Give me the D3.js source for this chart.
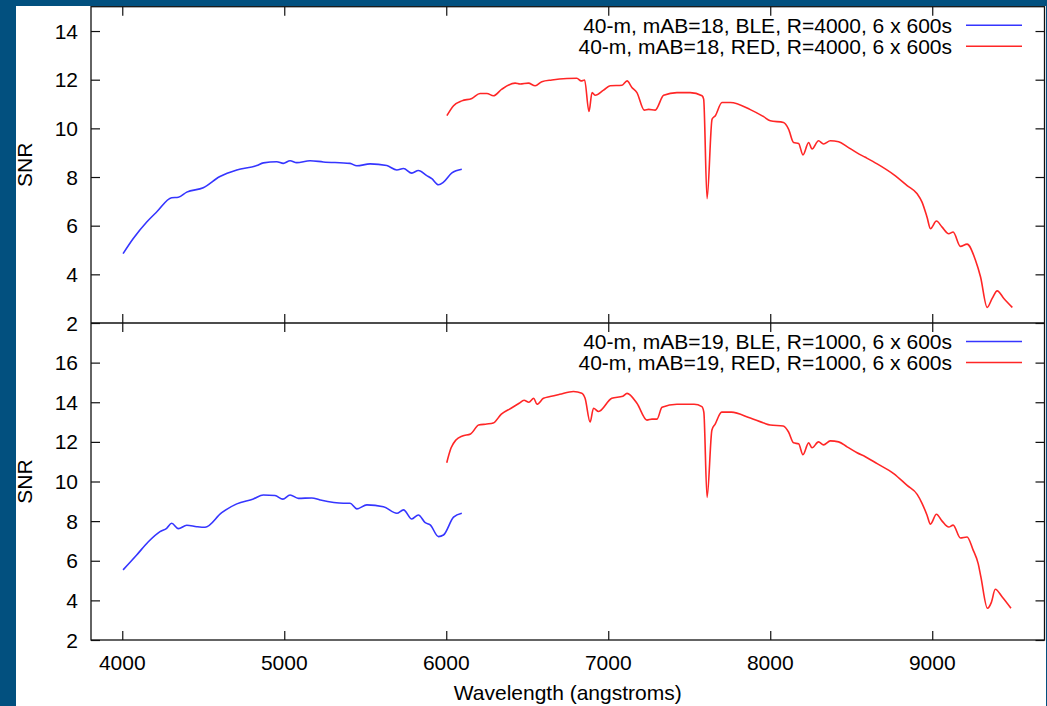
<!DOCTYPE html>
<html>
<head>
<meta charset="utf-8">
<script src="https://cdn.jsdelivr.net/npm/d3@7"></script>
<style>
    body { margin: 0; background: #02507f; }
    svg { display: block; }
    text { font-family: "Liberation Sans", Arial, Helvetica, sans-serif; fill: #000; }
</style>
</head>
<body>
<div id="chart"></div>
<script>
// wavelength ticks and SNR ticks for both panels
var xTicks = [4000, 5000, 6000, 7000, 8000, 9000];
var yTicksTop = [2, 4, 6, 8, 10, 12, 14];
var yTicksBottom = [2, 4, 6, 8, 10, 12, 14, 16];

var legendTop = ["40-m, mAB=18, BLE, R=4000, 6 x 600s", "40-m, mAB=18, RED, R=4000, 6 x 600s"];
var legendBottom = ["40-m, mAB=19, BLE, R=1000, 6 x 600s", "40-m, mAB=19, RED, R=1000, 6 x 600s"];

// [wavelength, SNR]
var blueTop = [[4005,4.85],[4068,5.47],[4151,6.15],[4212,6.56],[4305,7.15],[4346,7.17],[4398,7.38],[4500,7.56],
    [4603,8.02],[4707,8.29],[4830,8.47],[4871,8.58],[4954,8.63],[4994,8.56],[5036,8.67],[5077,8.59],[5159,8.67],
    [5241,8.62],[5406,8.56],[5448,8.46],[5530,8.54],[5633,8.47],[5695,8.29],[5736,8.35],[5787,8.16],[5828,8.27],
    [5880,8.06],[5911,7.93],[5952,7.68],[5983,7.79],[6035,8.17],[6096,8.32]];

var redTop = [[6004,10.52],[6045,10.93],[6096,11.13],[6158,11.23],[6209,11.43],[6251,11.43],[6291,11.34],[6343,11.61],
    [6425,11.86],[6456,11.82],[6507,11.86],[6549,11.75],[6590,11.92],[6652,11.99],[6745,12.05],[6806,12.06],
    [6833,11.95],[6854,11.99],[6881,10.69],[6900,11.47],[6920,11.36],[6971,11.57],[7012,11.75],[7085,11.77],
    [7116,11.95],[7146,11.68],[7177,11.47],[7222,10.75],[7249,10.78],[7290,10.75],[7342,11.36],[7424,11.47],
    [7506,11.47],[7579,11.34],[7589,11.2],[7610,7.11],[7641,10.38],[7661,10.52],[7702,11.06],[7754,11.06],
    [7877,10.77],[7959,10.48],[8000,10.31],[8082,10.24],[8113,9.97],[8144,9.42],[8175,9.38],[8202,8.91],
    [8237,9.42],[8258,9.15],[8298,9.49],[8329,9.36],[8371,9.49],[8422,9.45],[8474,9.25],[8536,8.99],
    [8587,8.81],[8660,8.54],[8762,8.1],[8845,7.65],[8907,7.31],[8937,6.97],[8968,6.35],[8989,5.88],
    [9026,6.19],[9061,5.94],[9102,5.67],[9129,5.74],[9174,5.15],[9215,5.24],[9267,4.58],[9298,3.9],
    [9339,2.64],[9370,3.01],[9401,3.32],[9442,3.01],[9494,2.64]];

var blueBottom = [[4005,5.54],[4089,6.29],[4161,6.96],[4233,7.47],[4274,7.64],[4305,7.89],[4346,7.62],[4398,7.79],
    [4460,7.72],[4511,7.69],[4614,8.43],[4707,8.87],[4809,9.12],[4871,9.32],[4943,9.29],[4991,9.11],[5036,9.32],
    [5087,9.15],[5170,9.17],[5221,9.07],[5365,8.9],[5406,8.9],[5448,8.62],[5510,8.82],[5612,8.73],[5695,8.4],
    [5736,8.57],[5787,8.11],[5828,8.31],[5870,7.92],[5901,7.81],[5952,7.22],[5983,7.3],[6045,8.2],[6096,8.4]];

var redBottom = [[6003,10.95],[6030,11.7],[6060,12.1],[6100,12.3],[6150,12.4],[6200,12.85],[6250,12.9],[6290,12.95],
    [6340,13.4],[6400,13.7],[6450,13.95],[6480,14.1],[6510,14.0],[6540,14.2],[6560,13.9],[6600,14.2],[6641,14.29],
    [6700,14.4],[6785,14.54],[6837,14.46],[6857,14.2],[6888,13.0],[6909,13.7],[6940,13.53],[7022,14.2],[7090,14.3],
    [7116,14.45],[7177,13.95],[7239,13.1],[7270,13.15],[7301,13.15],[7332,13.75],[7424,13.9],[7530,13.9],
    [7578,13.78],[7590,13.5],[7610,9.2],[7640,12.6],[7660,12.9],[7700,13.5],[7760,13.5],[7877,13.2],[7960,12.95],
    [8000,12.85],[8080,12.8],[8113,12.5],[8144,11.95],[8175,11.9],[8202,11.35],[8237,11.95],[8258,11.7],
    [8298,12.0],[8329,11.85],[8371,12.05],[8422,12.0],[8474,11.75],[8536,11.45],[8587,11.25],[8660,10.9],
    [8762,10.4],[8845,9.8],[8907,9.35],[8937,8.9],[8968,8.3],[8989,7.85],[9026,8.35],[9061,8.0],[9102,7.7],
    [9129,7.8],[9174,7.15],[9215,7.2],[9252,6.55],[9284,5.84],[9300,5.2],[9341,3.6],[9365,3.9],[9389,4.56],
    [9432,4.17],[9486,3.6]];

var W = 1047, H = 706;
var plotLeft = 91, plotRight = 1044.5, plotTop = 6.7, plotMid = 323, plotBottom = 640;
var tickLen = 9;
var fontSize = "21px";

var svg = d3.select("#chart").append("svg")
    .attr("width", W)
    .attr("height", H);

// white page inside the blue frame
svg.append("rect")
    .attr("x", 16).attr("y", 6)
    .attr("width", 1030).attr("height", H - 6)
    .attr("fill", "#fff");

var x = d3.scaleLinear().domain([3807, 9693]).range([plotLeft, plotRight]);

function drawPanel(y0, y1, ydomain, yticks, blue, red, legend) {
    var y = d3.scaleLinear().domain(ydomain).range([y1, y0]);
    var g = svg.append("g");

    var line = d3.line()
        .x(function (d) { return x(d[0]); })
        .y(function (d) { return y(d[1]); })
        .curve(d3.curveMonotoneX);

    g.append("path").datum(blue)
        .attr("d", line)
        .attr("fill", "none").attr("stroke", "#3535ff").attr("stroke-width", 1.6);
    g.append("path").datum(red)
        .attr("d", line)
        .attr("fill", "none").attr("stroke", "#ff2626").attr("stroke-width", 1.6);

    // left axis ticks, mirrored on the right
    g.append("g")
        .attr("transform", "translate(" + plotLeft + ",0)")
        .call(d3.axisRight(y).tickValues(yticks).tickSize(tickLen).tickFormat(""))
        .call(function (a) { a.select(".domain").remove(); });
    g.append("g")
        .attr("transform", "translate(" + plotRight + ",0)")
        .call(d3.axisLeft(y).tickValues(yticks).tickSize(tickLen).tickFormat(""))
        .call(function (a) { a.select(".domain").remove(); });

    g.selectAll(".ylab")
        .data(yticks)
        .enter().append("text")
        .attr("x", 78)
        .attr("y", function (d) { return y(d); })
        .attr("dy", "0.36em")
        .attr("text-anchor", "end")
        .style("font-size", fontSize)
        .text(function (d) { return d; });

    // x ticks on top and bottom of the panel, pointing in
    g.append("g")
        .attr("transform", "translate(0," + y1 + ")")
        .call(d3.axisTop(x).tickValues(xTicks).tickSize(tickLen).tickFormat(""))
        .call(function (a) { a.select(".domain").remove(); });
    g.append("g")
        .attr("transform", "translate(0," + y0 + ")")
        .call(d3.axisBottom(x).tickValues(xTicks).tickSize(tickLen).tickFormat(""))
        .call(function (a) { a.select(".domain").remove(); });

    g.selectAll(".tick line").attr("stroke", "#111").attr("stroke-width", 1.2);

    g.append("text")
        .attr("transform", "translate(24," + (y0 + y1) / 2 + ") rotate(-90)")
        .attr("text-anchor", "middle")
        .attr("dy", "0.36em")
        .style("font-size", fontSize)
        .text("SNR");

    // legend
    var colors = ["#3535ff", "#ff2626"];
    legend.forEach(function (label, i) {
        var ly = y0 + 18.5 + i * 21;
        g.append("text")
            .attr("x", 952).attr("y", ly)
            .attr("dy", "0.36em")
            .attr("text-anchor", "end")
            .style("font-size", fontSize)
            .text(label);
        g.append("line")
            .attr("x1", 966).attr("x2", 1022)
            .attr("y1", ly).attr("y2", ly)
            .attr("stroke", colors[i]).attr("stroke-width", 1.6);
    });
}

drawPanel(plotTop, plotMid, [2, 15], yTicksTop, blueTop, redTop, legendTop);
drawPanel(plotMid, plotBottom, [2, 18], yTicksBottom, blueBottom, redBottom, legendBottom);

// frames
svg.append("rect")
    .attr("x", plotLeft).attr("y", plotTop)
    .attr("width", plotRight - plotLeft).attr("height", plotBottom - plotTop)
    .attr("fill", "none").attr("stroke", "#111").attr("stroke-width", 1.3);
svg.append("line")
    .attr("x1", plotLeft).attr("x2", plotRight)
    .attr("y1", plotMid).attr("y2", plotMid)
    .attr("stroke", "#111").attr("stroke-width", 1.3);

// x tick labels and title
svg.selectAll(".xlab")
    .data(xTicks)
    .enter().append("text")
    .attr("x", function (d) { return x(d); })
    .attr("y", 662)
    .attr("dy", "0.36em")
    .attr("text-anchor", "middle")
    .style("font-size", fontSize)
    .text(function (d) { return d; });

svg.append("text")
    .attr("x", (plotLeft + plotRight) / 2)
    .attr("y", 692)
    .attr("dy", "0.36em")
    .attr("text-anchor", "middle")
    .style("font-size", fontSize)
    .text("Wavelength (angstroms)");
</script>
</body>
</html>
